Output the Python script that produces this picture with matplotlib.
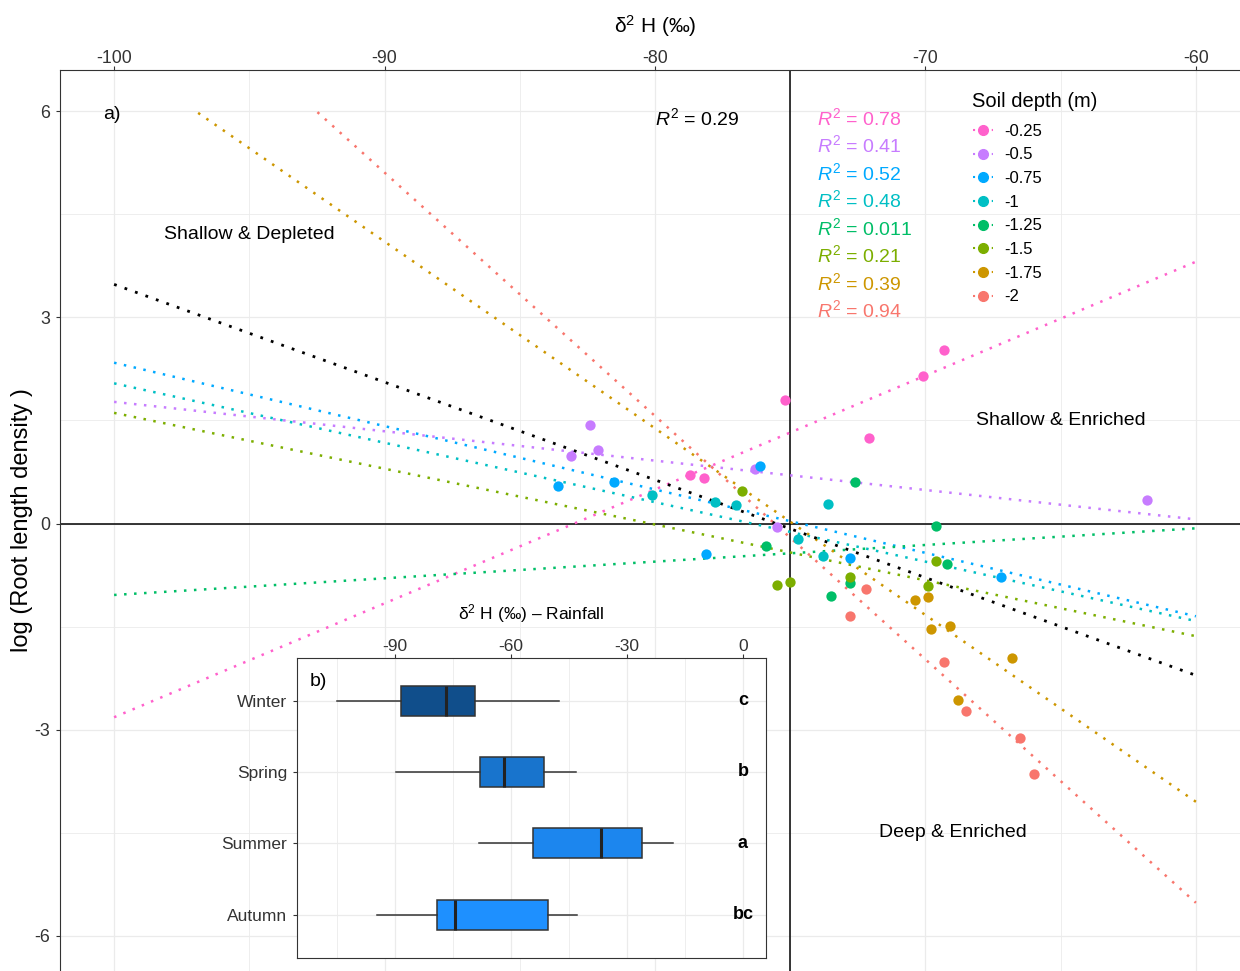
import numpy as np
import matplotlib.pyplot as plt
from matplotlib.lines import Line2D

plt.rcParams['font.family'] = ['Liberation Sans', 'DejaVu Sans']
plt.rcParams['mathtext.fontset'] = 'custom'
plt.rcParams['mathtext.rm'] = 'Liberation Sans'
plt.rcParams['mathtext.it'] = 'Liberation Sans:italic'
plt.rcParams['axes.unicode_minus'] = False

# ---- panel a) data ----
depths = ['-0.25', '-0.5', '-0.75', '-1', '-1.25', '-1.5', '-1.75', '-2']
colors = ['#FF61CC', '#C77CFF', '#00A9FF', '#00BFC4', '#00BE67', '#7CAE00', '#CD9600', '#F8766D']
r2_values = ['0.78', '0.41', '0.52', '0.48', '0.011', '0.21', '0.39', '0.94']
r2_all = '0.29'

d2h = [
    [-75.2, -70.1, -69.3, -72.1, -78.7, -78.2],
    [-82.4, -82.1, -83.1, -76.3, -75.5, -61.8],
    [-83.6, -81.5, -76.1, -78.1, -72.8, -67.2],
    [-80.1, -77.8, -77.0, -73.6, -74.7, -73.8],
    [-72.6, -69.6, -75.9, -73.5, -72.8, -69.2],
    [-76.8, -75.5, -75.0, -72.8, -69.6, -69.9],
    [-70.4, -69.9, -69.8, -69.1, -66.8, -68.8],
    [-72.2, -72.8, -69.3, -68.5, -66.5, -66.0],
]
log_rld = [
    [1.80, 2.14, 2.53, 1.24, 0.71, 0.66],
    [1.44, 1.07, 0.98, 0.79, -0.05, 0.34],
    [0.55, 0.61, 0.83, -0.45, -0.50, -0.78],
    [0.42, 0.32, 0.27, 0.29, -0.22, -0.47],
    [0.61, -0.04, -0.33, -1.05, -0.87, -0.59],
    [0.47, -0.89, -0.85, -0.78, -0.55, -0.91],
    [-1.11, -1.07, -1.53, -1.49, -1.96, -2.57],
    [-0.95, -1.35, -2.02, -2.73, -3.12, -3.64],
]
# fitted lines, value at x=-100 and x=-60
fit_x = [-100, -60]
fit_depth = [
    [-2.82, 3.81],
    [1.77, 0.06],
    [2.34, -1.35],
    [2.04, -1.42],
    [-1.04, -0.07],
    [1.61, -1.64],
    [6.82, -4.05],
    [8.65, -5.52],
]
fit_all = [3.48, -2.21]

# ---- panel b) data ----
seasons = ['Winter', 'Spring', 'Summer', 'Autumn']
whislo = [-105.0, -89.7, -68.2, -94.7]
q1 = [-88.6, -68.1, -54.3, -79.2]
med = [-76.8, -61.9, -36.6, -74.6]
q3 = [-69.4, -51.4, -26.2, -50.4]
whishi = [-47.6, -43.1, -18.2, -42.8]
letters = ['c', 'b', 'a', 'bc']
box_colors = ['#104E8B', '#1874CD', '#1C86EE', '#1E90FF']

W, H = 1240, 971
fig = plt.figure(figsize=(W / 100, H / 100), dpi=100)
ax = fig.add_axes([60 / W, (H - 977) / H, 1190 / W, 907 / H])

grid_c = '#EBEBEB'
for gx in np.arange(-100, -55, 5):
    ax.axvline(gx, color=grid_c, lw=0.9 if gx % 10 == 0 else 0.6, zorder=0)
for gy in np.arange(-6, 7.5, 1.5):
    ax.axhline(gy, color=grid_c, lw=0.9 if gy % 3 == 0 else 0.6, zorder=0)
ax.axhline(0, color='black', lw=1.1, zorder=1)
ax.axvline(-75, color='black', lw=1.1, zorder=1)


def draw_fit(y_ends, color, lw):
    xs = np.linspace(fit_x[0], fit_x[1], 400)
    ys = np.interp(xs, fit_x, y_ends)
    keep = ys <= 6
    ax.plot(xs[keep], ys[keep], color=color, lw=lw, ls=(0, (1, 3)), zorder=2)


for i in range(len(depths)):
    draw_fit(fit_depth[i], colors[i], 1.8)
draw_fit(fit_all, 'black', 2.0)

for i in range(len(depths)):
    ax.scatter(d2h[i], log_rld[i], s=55, color=colors[i], zorder=3, linewidths=0)

ax.set_xlim(-102, -58)
ax.set_ylim(-6.6, 6.6)
ax.xaxis.tick_top()
ax.xaxis.set_label_position('top')
ax.set_xticks([-100, -90, -80, -70, -60])
ax.set_yticks([-6, -3, 0, 3, 6])
ax.tick_params(labelsize=12.8, colors='#333333', length=3.2)
ax.tick_params(axis='x', pad=-0.8)
ax.tick_params(axis='y', pad=4)
for s in ax.spines.values():
    s.set_color('#333333')
ax.set_xlabel('δ$^2$ H (‰)', fontsize=15, labelpad=12.4)
ax.set_ylabel('log (Root length density )', fontsize=17)
ax.yaxis.set_label_coords(-0.0223, 0.504)

ax.text(-100.07, 5.95, 'a)', fontsize=14, ha='center', va='center')
ax.text(-95, 4.2, 'Shallow & Depleted', fontsize=14, ha='center', va='center')
ax.text(-65, 1.5, 'Shallow & Enriched', fontsize=14, ha='center', va='center')
ax.text(-69, -4.5, 'Deep & Enriched', fontsize=14, ha='center', va='center')

ax.text(-80.0, 5.9, '$R^2$ = ' + r2_all, fontsize=14, ha='left', va='center')
for i in range(len(depths)):
    ax.text(-74.0, 5.9 - 0.4 * i, '$R^2$ = ' + r2_values[i], fontsize=14,
            ha='left', va='center', color=colors[i])

# legend (title drawn as its own text so the gap matches)
ax.text(0.7664, 0.965, 'Soil depth (m)', fontsize=14.5, ha='left', va='center',
        transform=ax.transAxes)
handles = [Line2D([], [], color=c, marker='o', ls=(0, (1, 2)), lw=1.5, markersize=7) for c in colors]
ax.legend(handles, depths, loc='upper left',
          bbox_to_anchor=(0.7672, 0.9407), frameon=False, fontsize=12,
          handlelength=1.2, handletextpad=0.66,
          labelspacing=0.52, borderpad=0, borderaxespad=0)

# ---- inset b) ----
ins = fig.add_axes([297 / W, (H - 957.7) / H, 469 / W, 300 / H])
for gx in np.arange(-105, 5, 15):
    ins.axvline(gx, color=grid_c, lw=0.9 if gx % 30 == 0 else 0.6, zorder=0)
ypos = [4, 3, 2, 1]
for yp in ypos:
    ins.axhline(yp, color=grid_c, lw=0.9, zorder=0)
stats = []
for i in range(len(seasons)):
    stats.append(dict(whislo=whislo[i], q1=q1[i], med=med[i], q3=q3[i],
                      whishi=whishi[i], fliers=[], label=seasons[i]))
bp = ins.bxp(stats, positions=ypos, widths=0.42, orientation='horizontal',
             patch_artist=True, showcaps=False, showfliers=False,
             boxprops=dict(edgecolor='#333333', lw=1.1),
             whiskerprops=dict(color='#333333', lw=1.1),
             medianprops=dict(color='#222222', lw=2.2), zorder=2)
for patch, c in zip(bp['boxes'], box_colors):
    patch.set_facecolor(c)
for i in range(len(seasons)):
    ins.text(0, ypos[i], letters[i], fontsize=13, fontweight='bold', ha='center', va='center')
ins.set_xlim(-115.4, 6.0)
ins.set_ylim(0.4, 4.6)
ins.xaxis.tick_top()
ins.xaxis.set_label_position('top')
ins.set_xticks([-90, -60, -30, 0])
ins.set_yticks(ypos)
ins.set_yticklabels(seasons)
ins.tick_params(labelsize=12.5, colors='#333333', length=3.2)
ins.tick_params(axis='x', pad=-0.7)
ins.tick_params(axis='y', pad=4)
for s in ins.spines.values():
    s.set_color('#333333')
ins.set_xlabel('δ$^2$ H (‰) – Rainfall', fontsize=12.5, labelpad=14.4)
ins.text(-112, 4.27, 'b)', fontsize=14, ha='left', va='center')

fig.savefig('out.png', dpi=100)
